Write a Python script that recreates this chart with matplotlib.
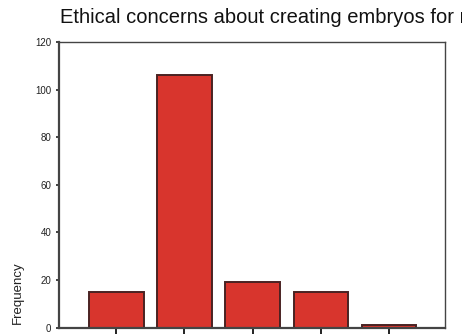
import matplotlib
matplotlib.use("Agg")
import matplotlib.pyplot as plt

categories = ["A", "B", "C", "D", "E"]
frequencies = [15, 106, 19, 15, 1]
yticks = [0, 20, 40, 60, 80, 100, 120]
title = "Ethical concerns about creating embryos for research"

plt.rcParams['font.family'] = ['Liberation Sans', 'DejaVu Sans']

fig = plt.figure(figsize=(4.62, 3.35), dpi=100)
ax = fig.add_axes([59/462, 1-327.5/335, (445-59)/462, (327.5-42)/335])

x = list(range(len(categories)))
ax.bar(x, frequencies, width=0.8, color='#d8352d', edgecolor='#4a2222', linewidth=1.4)

ax.set_xlim(-0.84, 4.82)
ax.set_ylim(0, 120)
ax.set_yticks(yticks)
ax.set_yticklabels([str(v) for v in yticks], fontsize=7, color='#222222')
ax.set_xticks(x)
ax.set_xticklabels([])
ax.tick_params(axis='y', length=2.5, width=1.2, pad=3, color='#222222')
ax.tick_params(axis='x', length=4, width=1.3, color='#111111')
for s in ax.spines.values():
    s.set_color('#444444')
    s.set_linewidth(1.0)
ax.spines['left'].set_linewidth(1.6)
ax.spines['bottom'].set_linewidth(1.6)

ax.set_ylabel("Frequency", fontsize=9.5, color='#222222')
ax.yaxis.set_label_coords(-0.092, 0.121)

fig.text(60.5/462, 1-22.7/335, title, fontsize=14.5, color='#111111', va='baseline', ha='left')

fig.savefig("out.png", dpi=100)
